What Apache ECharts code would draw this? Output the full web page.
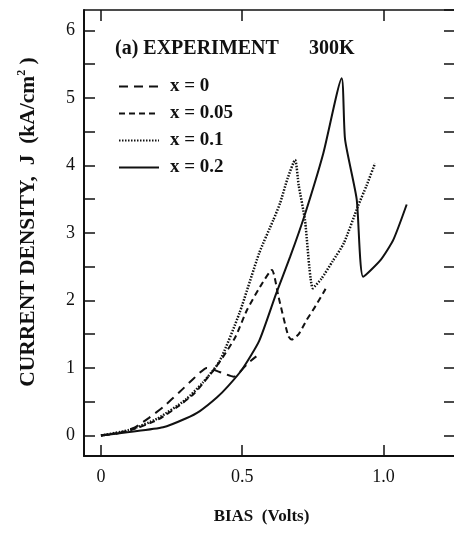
<!DOCTYPE html>
<html>
<head>
<meta charset="utf-8">
<script src="https://cdn.jsdelivr.net/npm/echarts@6/dist/echarts.min.js"></script>
<style>
html,body{margin:0;padding:0;background:#fff;}
#c{width:454px;height:541px;}
</style>
</head>
<body>
<div id="c"></div>
<script>
// ---- data ----
const seriesNames = ['x = 0', 'x = 0.05', 'x = 0.1', 'x = 0.2'];

const biasX0 = [0, 0.06, 0.12, 0.17, 0.22, 0.28, 0.33, 0.375, 0.42, 0.47, 0.52, 0.55];
const jX0    = [0, 0.03, 0.12, 0.26, 0.42, 0.65, 0.85, 1.00, 0.94, 0.87, 1.07, 1.17];

const biasX005 = [0, 0.1, 0.2, 0.27, 0.33, 0.39, 0.43, 0.475, 0.516, 0.563, 0.605, 0.628, 0.663, 0.675, 0.70, 0.728, 0.76, 0.795];
const jX005    = [0, 0.07, 0.23, 0.42, 0.62, 0.92, 1.15, 1.45, 1.85, 2.20, 2.45, 2.06, 1.47, 1.42, 1.50, 1.71, 1.92, 2.17];

const biasX01 = [0, 0.1, 0.2, 0.3, 0.36, 0.42, 0.49, 0.56, 0.61, 0.634, 0.66, 0.687, 0.70, 0.722, 0.75, 0.78, 0.82, 0.86, 0.91, 0.94, 0.97];
const jX01    = [0, 0.08, 0.25, 0.53, 0.78, 1.10, 1.81, 2.70, 3.19, 3.44, 3.80, 4.08, 3.70, 3.19, 2.18, 2.32, 2.58, 2.85, 3.40, 3.70, 4.03];

const biasX02 = [0, 0.10, 0.22, 0.30, 0.35, 0.41, 0.45, 0.50, 0.56, 0.62, 0.67, 0.72, 0.787, 0.852, 0.864, 0.905, 0.928, 0.99, 1.035, 1.082];
const jX02    = [0, 0.05, 0.12, 0.25, 0.36, 0.56, 0.73, 0.98, 1.40, 2.10, 2.65, 3.25, 4.18, 5.29, 4.38, 3.50, 2.35, 2.60, 2.90, 3.42];

const xTickValues = [0, 0.5, 1.0];
const xTickLabels = ['0', '0.5', '1.0'];
const yTickValues = [0, 1, 2, 3, 4, 5, 6];
const yTickLabels = ['0', '1', '2', '3', '4', '5', '6'];

const titleLeft = '(a) EXPERIMENT';
const titleRight = '300K';
const xAxisTitle = 'BIAS  (Volts)';
const yAxisTitleMain = 'CURRENT DENSITY,  J  (kA/cm';
const yAxisTitleSup = '2';
const yAxisTitleEnd = ' )';

// ---- helpers ----
function zip(a, b) { return a.map((v, i) => [v, b[i]]); }
function lookup(vals, labels, v) {
  for (let i = 0; i < vals.length; i++) if (Math.abs(vals[i] - v) < 1e-6) return labels[i];
  return '';
}

const FONT = 'Liberation Serif';
const BLACK = '#111';

const chart = echarts.init(document.getElementById('c'), null, {renderer: 'canvas'});

const baseLine = (type, width) => ({color: BLACK, width: width, type: type});

chart.setOption({
  backgroundColor: '#fff',
  animation: false,
  title: {
    left: 115, top: 39, padding: 0,
    text: '{a|' + titleLeft + '}{g|}{a|' + titleRight + '}',
    textStyle: {
      rich: {
        a: {fontFamily: FONT, fontWeight: 'bold', fontSize: 20, color: BLACK},
        g: {width: 30}
      }
    }
  },
  legend: {
    orient: 'vertical',
    left: 118, top: 77, padding: 0,
    itemWidth: 40, itemHeight: 14, itemGap: 8,
    data: seriesNames,
    itemStyle: {color: 'rgba(0,0,0,0)', borderColor: 'rgba(0,0,0,0)', borderWidth: 0, opacity: 0},
    textStyle: {fontFamily: FONT, fontWeight: 'bold', fontSize: 19, color: BLACK, lineHeight: 19, padding: [0, 0, 0, 6]},
    selectedMode: false
  },
  grid: {left: 84, right: -1, top: 10, bottom: 85, outerBoundsMode: 'none'},
  xAxis: [
    {
      type: 'value', position: 'bottom',
      min: -0.06, max: 1.253, minInterval: 0.5, maxInterval: 0.5,
      axisLine: {show: true, onZero: false, lineStyle: {color: BLACK, width: 2}},
      axisTick: {show: true, inside: true, length: 11, lineStyle: {color: BLACK, width: 1.5}},
      axisLabel: {
        show: true, margin: 12, showMinLabel: false, showMaxLabel: false,
        fontFamily: FONT, fontSize: 18, color: BLACK,
        formatter: v => lookup(xTickValues, xTickLabels, v)
      },
      splitLine: {show: false},
      name: xAxisTitle, nameLocation: 'middle', nameGap: 52,
      nameTextStyle: {fontFamily: FONT, fontWeight: 'bold', fontSize: 17, color: BLACK, padding: [0, 16, 0, 0]}
    },
    {
      type: 'value', position: 'top',
      min: -0.06, max: 1.253, minInterval: 0.5, maxInterval: 0.5,
      axisLine: {show: true, onZero: false, lineStyle: {color: BLACK, width: 1.5}},
      axisTick: {show: true, inside: true, length: 11, lineStyle: {color: BLACK, width: 1.5}},
      axisLabel: {show: false},
      splitLine: {show: false}
    }
  ],
  yAxis: [
    {
      type: 'value', position: 'left',
      min: -0.305, max: 6.3, minInterval: 0.5, maxInterval: 0.5,
      axisLine: {show: true, onZero: false, lineStyle: {color: BLACK, width: 2}},
      axisTick: {show: true, inside: true, length: 11, lineStyle: {color: BLACK, width: 1.5}},
      axisLabel: {
        show: true, margin: 9, showMinLabel: false, showMaxLabel: false,
        fontFamily: FONT, fontSize: 18, color: BLACK,
        formatter: v => lookup(yTickValues, yTickLabels, v)
      },
      splitLine: {show: false},
      name: '{a|' + yAxisTitleMain + '}{s|' + yAxisTitleSup + '}{a|' + yAxisTitleEnd + '}',
      nameLocation: 'middle', nameGap: 44, nameRotate: 90,
      nameTextStyle: {
        padding: [0, 0, 0, 22],
        rich: {
          a: {fontFamily: FONT, fontWeight: 'bold', fontSize: 21.5, color: BLACK, lineHeight: 24},
          s: {fontFamily: FONT, fontWeight: 'bold', fontSize: 12, color: BLACK, lineHeight: 24, verticalAlign: 'top', padding: [0, 0, 12, 0]}
        }
      }
    },
    {
      type: 'value', position: 'right',
      min: -0.305, max: 6.3, minInterval: 0.5, maxInterval: 0.5,
      axisLine: {show: true, onZero: false, lineStyle: {color: BLACK, width: 2}},
      axisTick: {show: true, inside: true, length: 11, lineStyle: {color: BLACK, width: 1.5}},
      axisLabel: {show: false},
      splitLine: {show: false}
    }
  ],
  series: [
    {name: seriesNames[0], type: 'line', data: zip(biasX0, jX0), symbol: 'none', smooth: 0.2,
     lineStyle: baseLine([9, 6], 2), itemStyle: {color: BLACK}},
    {name: seriesNames[1], type: 'line', data: zip(biasX005, jX005), symbol: 'none', smooth: 0.2,
     lineStyle: baseLine([6, 4], 2), itemStyle: {color: BLACK}},
    {name: seriesNames[2], type: 'line', data: zip(biasX01, jX01), symbol: 'none', smooth: 0.2,
     lineStyle: baseLine([1.5, 1.5], 2.5), itemStyle: {color: BLACK}},
    {name: seriesNames[3], type: 'line', data: zip(biasX02, jX02), symbol: 'none', smooth: 0.2,
     lineStyle: baseLine('solid', 2), itemStyle: {color: BLACK}}
  ]
});
</script>
</body>
</html>
